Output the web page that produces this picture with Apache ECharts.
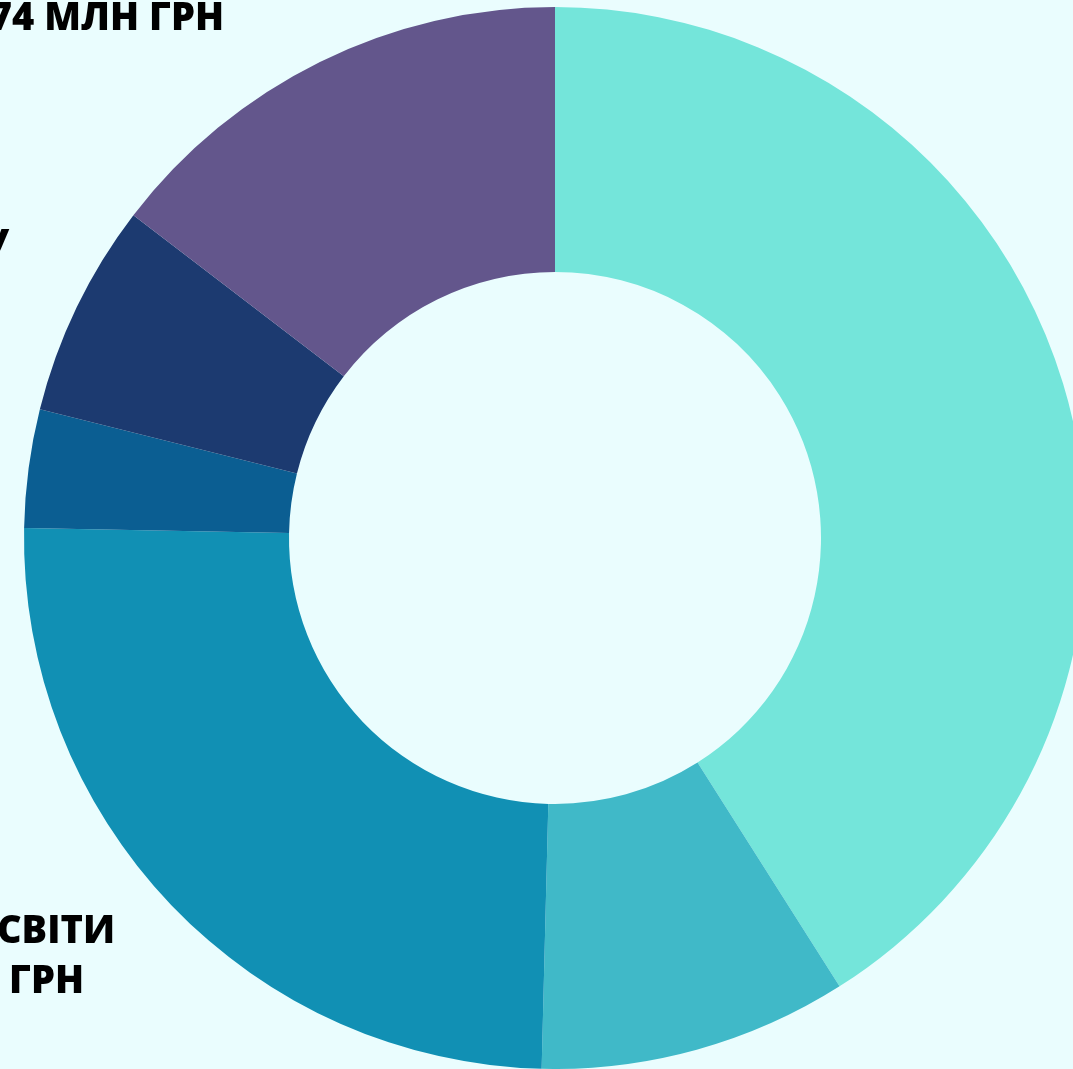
<!DOCTYPE html>
<html>
<head>
<meta charset="utf-8">
<script src="https://cdn.jsdelivr.net/npm/echarts@6/dist/echarts.min.js"></script>
<style>
html,body{margin:0;padding:0;background:#EAFDFE;}
#c{width:1073px;height:1069px;}
</style>
</head>
<body>
<div id="c"></div>
<script>
// Slice shares (percent), clockwise from 12 o'clock
const categories = ['A', 'B', 'C', 'D', 'E', 'F'];
const values = [41.0, 9.4, 24.9, 3.6, 6.5, 14.6];
const colors = ['#74E5DA', '#40B9C8', '#1190B4', '#0B5E92', '#1C3A70', '#63568C'];
// Outside labels (cut off by the frame in the source)
const labelTop = '74 МЛН ГРН';
const labelLeft = 'У';
const labelBottom1 = 'СВІТИ';
const labelBottom2 = 'ГРН';

const chart = echarts.init(document.getElementById('c'), null, {renderer: 'canvas'});
const txtStyle = {fontFamily: 'Open Sans', fontWeight: 800, fontSize: 38, fill: '#000', textAlign: 'right', textVerticalAlign: 'middle'};
chart.setOption({
  backgroundColor: '#EAFDFE',
  animation: false,
  series: [{
    type: 'pie',
    center: [555, 538],
    radius: [266, 531],
    startAngle: 90,
    clockwise: true,
    label: {show: false},
    labelLine: {show: false},
    emphasis: {disabled: true},
    data: categories.map((c, i) => ({name: c, value: values[i], itemStyle: {color: colors[i]}}))
  }],
  graphic: [
    {type: 'text', x: 224, y: 19, style: Object.assign({}, txtStyle, {text: labelTop})},
    {type: 'text', x: 9, y: 246, style: Object.assign({}, txtStyle, {text: labelLeft})},
    {type: 'text', x: 115, y: 932, style: Object.assign({}, txtStyle, {text: labelBottom1})},
    {type: 'text', x: 84, y: 982, style: Object.assign({}, txtStyle, {text: labelBottom2})}
  ]
});
</script>
</body>
</html>
